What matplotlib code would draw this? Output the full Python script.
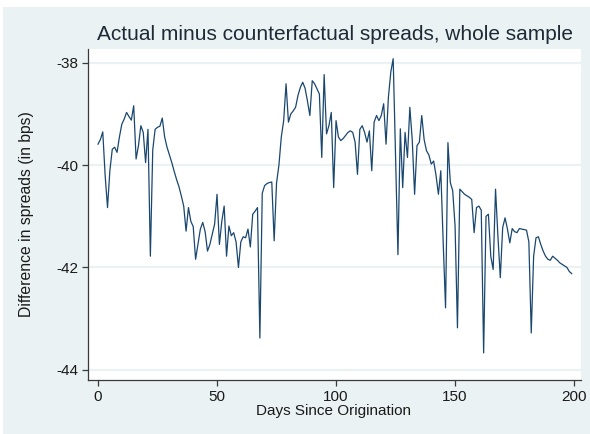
import matplotlib
matplotlib.use("Agg")
import matplotlib.pyplot as plt
import numpy as np
from matplotlib.patches import Rectangle

plt.rcParams["font.family"] = ["Liberation Sans", "DejaVu Sans"]

# daily difference (bps), days 0..199
days = np.arange(200)
spread_diff = [
    -39.59, -39.50, -39.35, -40.20, -40.83, -40.10, -39.69, -39.65, -39.75, -39.45,
    -39.20, -39.10, -38.97, -39.05, -39.12, -38.84, -39.88, -39.62, -39.23, -39.36,
    -39.95, -39.30, -41.78, -39.70, -39.30, -39.26, -39.24, -39.08, -39.45, -39.65,
    -39.80, -39.95, -40.12, -40.28, -40.42, -40.60, -40.80, -41.29, -40.83, -41.10,
    -41.20, -41.84, -41.55, -41.25, -41.12, -41.30, -41.68, -41.55, -41.35, -41.15,
    -40.57, -41.55, -41.10, -40.80, -41.78, -41.19, -41.38, -41.32, -41.50, -42.00,
    -41.50, -41.40, -41.42, -41.25, -41.60, -40.96, -40.90, -40.83, -43.38, -40.55,
    -40.40, -40.36, -40.34, -40.33, -41.48, -40.35, -40.00, -39.45, -39.13, -38.41,
    -39.16, -39.00, -38.94, -38.87, -38.64, -38.48, -38.38, -38.50, -38.75, -39.03,
    -38.35, -38.41, -38.51, -38.61, -39.85, -38.23, -39.39, -39.23, -38.97, -40.44,
    -39.13, -39.45, -39.52, -39.48, -39.42, -39.36, -39.33, -39.36, -39.55, -40.18,
    -39.30, -39.23, -39.36, -39.55, -39.33, -40.11, -39.16, -39.03, -39.13, -39.03,
    -38.80, -39.59, -38.67, -38.18, -37.92, -39.85, -41.75, -39.29, -40.44, -39.36,
    -39.85, -38.87, -39.50, -40.57, -39.62, -39.55, -39.03, -39.50, -39.72, -39.80,
    -39.98, -39.92, -40.20, -40.57, -40.11, -41.50, -42.79, -39.56, -40.34, -40.50,
    -41.19, -43.18, -40.47, -40.52, -40.57, -40.60, -40.63, -40.67, -41.32, -40.83,
    -40.80, -40.88, -43.67, -41.00, -40.96, -41.78, -42.04, -40.47, -41.39, -42.20,
    -41.22, -41.03, -41.25, -41.52, -41.24, -41.30, -41.32, -41.24, -41.25, -41.26,
    -41.27, -41.50, -43.28, -41.78, -41.42, -41.40, -41.55, -41.68, -41.78, -41.84,
    -41.86, -41.78, -41.82, -41.86, -41.91, -41.94, -41.97, -42.00, -42.08, -42.12,
]

x_ticks = [0, 50, 100, 150, 200]
y_ticks = [-44, -42, -40, -38]

bg = "#EAF2F3"
navy = "#1A476F"
axis_color = "#3A3A3A"

W, H = 590, 434
fig = plt.figure(figsize=(W / 100, H / 100), dpi=100)
fig.patch.set_facecolor("white")
fig.patches.append(Rectangle((3 / W, 0), 1 - 3 / W, 1 - 7 / H, transform=fig.transFigure,
                             facecolor=bg, edgecolor="none", zorder=-10))

ax = fig.add_axes([88 / W, 1 - 380 / H, (581 - 88) / W, (380 - 49) / H])
ax.set_zorder(2)
ax.set_facecolor("white")

for yt in y_ticks:
    ax.axhline(yt, color=bg, linewidth=1.6, zorder=1)

ax.plot(days, spread_diff, color=navy, linewidth=0.9, zorder=3)

ax.set_xlim(-4.2, 202.9)
ax.set_ylim(-44.2, -37.73)
ax.set_xticks(x_ticks)
ax.set_yticks(y_ticks)
ax.set_xticklabels([str(t) for t in x_ticks])
ax.set_yticklabels([str(t) for t in y_ticks])

for side in ["top", "right"]:
    ax.spines[side].set_visible(False)
for side in ["left", "bottom"]:
    ax.spines[side].set_color(axis_color)
    ax.spines[side].set_linewidth(0.9)

ax.tick_params(axis="both", colors=axis_color, labelcolor="#1a1a1a",
               length=4, width=0.9, labelsize=11)
ax.tick_params(axis="x", pad=3)
ax.tick_params(axis="y", pad=3)

fig.text(335 / W, 1 - 35 / H, "Actual minus counterfactual spreads, whole sample",
         ha="center", va="center", fontsize=15, color="#1E2A36")
fig.text(334 / W, 1 - 411 / H, "Days Since Origination",
         ha="center", va="center", fontsize=11, color="#1a1a1a")
fig.text(27 / W, 1 - 214 / H, "Difference in spreads (in bps)",
         ha="center", va="center", rotation=90, fontsize=11.3, color="#1a1a1a")

fig.savefig("out.png", dpi=100, facecolor=fig.get_facecolor())
